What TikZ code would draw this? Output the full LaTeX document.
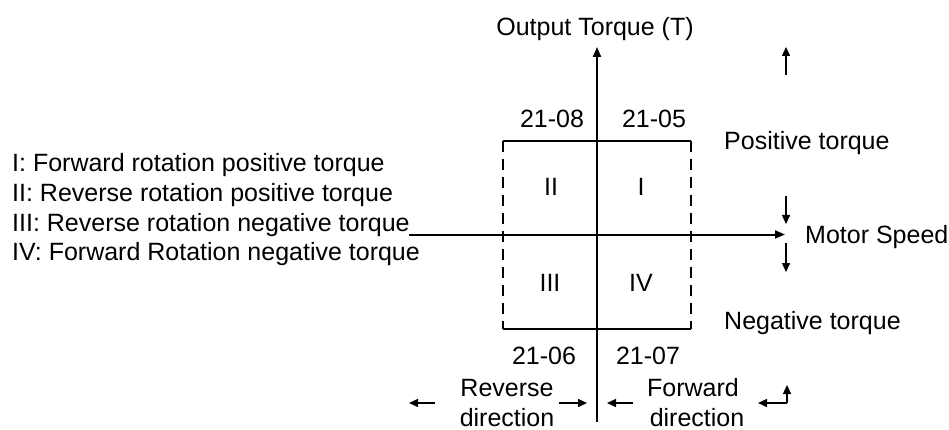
\documentclass[tikz,border=0pt]{standalone}
\usepackage{fontspec}
\setmainfont{Liberation Sans}
\usetikzlibrary{arrows.meta,positioning}

\begin{document}
\begin{tikzpicture}[
    x=1pt, y=-1pt,
    font=\fontsize{25}{30}\selectfont,
    axis_line/.style={-{Triangle[length=10pt,width=8pt]}, line width=2pt},
    hint_arrow/.style={-{Triangle[length=9pt,width=8pt]}, line width=1.5pt},
    edge_line/.style={line width=1.8pt},
    side_line/.style={line width=1.8pt, dash pattern=on 11pt off 7pt},
    txt/.style={inner sep=0pt, anchor=base},
    txt_left/.style={inner sep=0pt, anchor=base west}
]

\useasboundingbox (0,0) rectangle (949,430);

% LEGEND
\node[txt_left] (leg_i) at (12,172) {I: Forward rotation positive torque};
\node[txt_left] (leg_ii) at (12,201.5) {II: Reverse rotation positive torque};
\node[txt_left] (leg_iii) at (12,231) {III: Reverse rotation negative torque};
\node[txt_left] (leg_iv) at (12,260.5) {IV: Forward Rotation negative torque};

% AXES
\coordinate (h_start) at (409,234.5);
\coordinate (h_end) at (785,234.5);
\coordinate (v_start) at (597,422);
\coordinate (v_end) at (597,47);
\draw[axis_line] (h_start) -- (h_end);
\draw[axis_line] (v_start) -- (v_end);
\node[txt] (t_axis) at (595,36) {Output Torque (T)};
\node[txt_left] (s_axis) at (805,243) {Motor Speed};

% LIMIT BOX
\coordinate (box_nw) at (503,141);
\coordinate (box_ne) at (691,141);
\coordinate (box_sw) at (503,329);
\coordinate (box_se) at (691,329);
\draw[edge_line] (box_nw) -- (box_ne);
\draw[edge_line] (box_sw) -- (box_se);
\draw[side_line] (box_nw) -- (box_sw);
\draw[side_line] (box_ne) -- (box_se);

% QUADRANTS
\node[txt] (q_ii) at (551,196) {II};
\node[txt] (q_i) at (641,196) {I};
\node[txt] (q_iii) at (550,291) {III};
\node[txt] (q_iv) at (641,291) {IV};

% PARAMETERS
\node[txt] (p_08) at (552,127.5) {21-08};
\node[txt] (p_05) at (654,127.5) {21-05};
\node[txt] (p_06) at (544,364.5) {21-06};
\node[txt] (p_07) at (648,364.5) {21-07};

% TORQUE SIDE
\node[txt_left] (pos_t) at (724,149.5) {Positive torque};
\node[txt_left] (neg_t) at (724,329.5) {Negative torque};
\coordinate (up_a) at (786,75);
\coordinate (up_b) at (786,47);
\coordinate (dn1_a) at (786,196);
\coordinate (dn1_b) at (786,224);
\coordinate (dn2_a) at (786,243);
\coordinate (dn2_b) at (786,272);
\draw[hint_arrow] (up_a) -- (up_b);
\draw[hint_arrow] (dn1_a) -- (dn1_b);
\draw[hint_arrow] (dn2_a) -- (dn2_b);

% DIRECTION SIDE
\node[txt] (rev_1) at (507,396) {Reverse};
\node[txt] (rev_2) at (507,426.5) {direction};
\node[txt] (fwd_1) at (693,396) {Forward};
\node[txt] (fwd_2) at (697,426.5) {direction};
\coordinate (ra_a) at (435,403);
\coordinate (ra_b) at (409,403);
\coordinate (rb_a) at (559,403);
\coordinate (rb_b) at (587,403);
\coordinate (fa_a) at (633,403);
\coordinate (fa_b) at (607,403);
\coordinate (fb_a) at (787,403);
\coordinate (fb_b) at (758,403);
\coordinate (fb_c) at (787,385);
\draw[hint_arrow] (ra_a) -- (ra_b);
\draw[hint_arrow] (rb_a) -- (rb_b);
\draw[hint_arrow] (fa_a) -- (fa_b);
\draw[hint_arrow] (fb_a) -- (fb_b);
\draw[hint_arrow] (fb_a) -- (fb_c);

\end{tikzpicture}
\end{document}
